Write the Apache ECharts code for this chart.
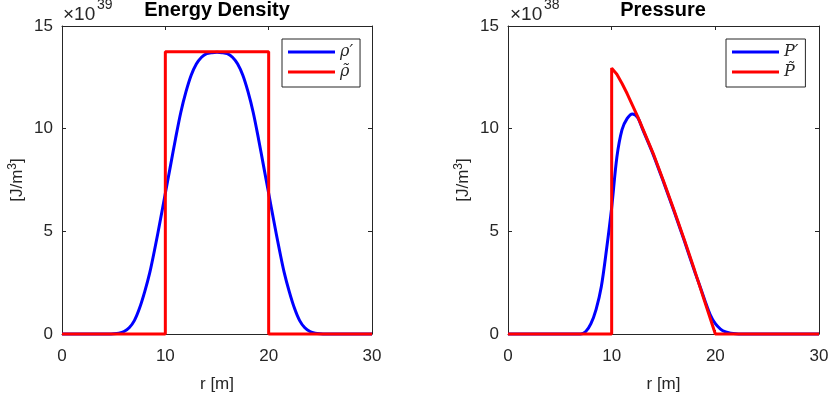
<!DOCTYPE html>
<html>
<head>
<meta charset="utf-8">
<script src="https://cdn.jsdelivr.net/npm/echarts@6/dist/echarts.min.js"></script>
<style>
  html, body { margin: 0; padding: 0; background: #fff; }
  #chart { width: 830px; height: 396px; }
</style>
</head>
<body>
<div id="chart"></div>
<script>
// Energy density, units of 1e39 J/m^3
const energyR = [0, 4.5, 5, 5.5, 6, 6.5, 7, 7.5, 8, 8.5, 9, 9.5, 10, 10.5, 11, 11.5, 12, 12.5, 13, 13.5, 14, 14.5, 15,
	15.5, 16, 16.5, 17, 17.5, 18, 18.5, 19, 19.5, 20, 20.5, 21, 21.5, 22, 22.5, 23, 23.5, 24, 24.5, 25, 25.5, 30];
const energySmooth = [0, 0, 0.01, 0.04, 0.12, 0.3, 0.65, 1.25, 2.05, 3.0, 4.2, 5.5, 6.85, 8.2, 9.55, 10.8, 11.8, 12.6, 13.15, 13.48, 13.65, 13.7, 13.72,
	13.7, 13.65, 13.48, 13.15, 12.6, 11.8, 10.8, 9.55, 8.2, 6.85, 5.5, 4.2, 3.0, 2.05, 1.25, 0.65, 0.3, 0.12, 0.04, 0.01, 0, 0];
const energyStepR = [0, 10, 10, 20, 20, 30];
const energyStep = [0, 0, 13.75, 13.75, 0, 0];

// Pressure, units of 1e38 J/m^3
const pressureR = [0, 7, 7.5, 8, 8.5, 9, 9.5, 10, 10.5, 11, 11.5, 12, 12.5, 13, 14, 15, 16, 17, 18,
	18.5, 19, 19.5, 20, 20.5, 21, 21.5, 22, 22.5, 30];
const pressureSmooth = [0, 0, 0.12, 0.5, 1.2, 2.3, 4.1, 6.15, 8.6, 9.95, 10.5, 10.72, 10.55, 9.95, 8.75, 7.4, 6.0, 4.55, 3.05,
	2.35, 1.62, 0.95, 0.5, 0.24, 0.1, 0.04, 0.01, 0, 0];
const pressureStepR = [0, 10, 10, 10.5, 11, 11.5, 12, 12.5, 13, 14, 15, 16, 17, 18, 19, 20, 30];
const pressureStep = [0, 0, 12.95, 12.65, 12.2, 11.7, 11.15, 10.6, 10.0, 8.8, 7.45, 6.05, 4.6, 3.1, 1.55, 0, 0];

const xTicks = { min: 0, max: 30, interval: 10 };
const yTicks = { min: 0, max: 15, interval: 5 };

const TEXT = "#262626";
const FONT = "'Liberation Sans', Arial, sans-serif";
const SERIF = "'DejaVu Serif', 'Liberation Serif', serif";

const zip = (xs, ys) => xs.map((x, i) => [x, ys[i]]);

const grids = [
	{ left: 62, top: 26, width: 310, height: 308, outerBoundsMode: "none", containLabel: false },
	{ left: 508, top: 26, width: 311, height: 308, outerBoundsMode: "none", containLabel: false },
];

function xAxes(gridIndex) {
	const base = {
		type: "value", gridIndex, ...xTicks,
		axisLine: { show: true, onZero: false, lineStyle: { color: TEXT, width: 1 } },
		axisTick: { show: true, inside: true, length: 4, lineStyle: { color: TEXT } },
		splitLine: { show: false },
	};
	return [
		{
			...base, position: "bottom",
			axisLabel: { color: TEXT, fontSize: 17, fontFamily: FONT, margin: 14 },
			name: "r [m]", nameLocation: "middle", nameGap: 42,
			nameTextStyle: { color: TEXT, fontSize: 17, fontFamily: FONT },
		},
		{ ...base, position: "top", axisLabel: { show: false } },
	];
}

function yAxes(gridIndex) {
	const base = {
		type: "value", gridIndex, ...yTicks,
		axisLine: { show: true, onZero: false, lineStyle: { color: TEXT, width: 1 } },
		axisTick: { show: true, inside: true, length: 4, lineStyle: { color: TEXT } },
		splitLine: { show: false },
	};
	return [
		{
			...base, position: "left",
			axisLabel: { color: TEXT, fontSize: 17, fontFamily: FONT, margin: 9 },
			name: "[J/m{s|3}]", nameLocation: "middle", nameGap: 34,
			nameTextStyle: {
				color: TEXT, fontSize: 17, fontFamily: FONT,
				rich: { s: { fontSize: 12, fontFamily: FONT, color: TEXT, verticalAlign: "bottom", padding: [0, 0, 9, 0] } },
			},
		},
		{ ...base, position: "right", axisLabel: { show: false } },
	];
}

function lineSeries(name, data, color, axis, smooth) {
	return {
		name, type: "line", data,
		xAxisIndex: axis, yAxisIndex: axis,
		symbol: "none", showSymbol: false, smooth,
		lineStyle: { color, width: 3 },
		itemStyle: { color },
		emphasis: { disabled: true },
		clip: false,
	};
}

function legendBox(names, left) {
	return {
		data: names, left, top: 39, orient: "vertical",
		icon: "rect", itemWidth: 47, itemHeight: 3, itemGap: 4,
		padding: [5, 7, 7, 6],
		borderColor: TEXT, borderWidth: 1, backgroundColor: "#fff",
		textStyle: { fontFamily: SERIF, fontStyle: "italic", fontSize: 16, color: TEXT, lineHeight: 16 },
		selectedMode: false,
	};
}

function titleText(text, x) {
	return {
		type: "text", x, y: 10,
		style: { text, font: "bold 20px " + FONT, fill: "#000", align: "center", verticalAlign: "middle" },
	};
}

function exponentText(x, exp) {
	return [
		{ type: "text", x, y: 15, style: { text: "×10", font: "19px " + FONT, fill: TEXT, verticalAlign: "middle" } },
		{ type: "text", x: x + 34, y: 5, style: { text: exp, font: "14px " + FONT, fill: TEXT, verticalAlign: "middle" } },
	];
}

const chart = echarts.init(document.getElementById("chart"));
chart.setOption({
	animation: false,
	textStyle: { fontFamily: FONT },
	grid: grids,
	xAxis: [...xAxes(0), ...xAxes(1)],
	yAxis: [...yAxes(0), ...yAxes(1)],
	legend: [legendBox(["ρ′", "ρ̃"], 282), legendBox(["P′", "P̃"], 726)],
	graphic: [
		titleText("Energy Density", 217),
		titleText("Pressure", 663),
		...exponentText(63, "39"),
		...exponentText(510, "38"),
	],
	series: [
		lineSeries("ρ′", zip(energyR, energySmooth), "#0000ff", 0, 0.3),
		lineSeries("ρ̃", zip(energyStepR, energyStep), "#ff0000", 0, false),
		lineSeries("P′", zip(pressureR, pressureSmooth), "#0000ff", 2, 0.3),
		lineSeries("P̃", zip(pressureStepR, pressureStep), "#ff0000", 2, false),
	],
});
</script>
</body>
</html>
